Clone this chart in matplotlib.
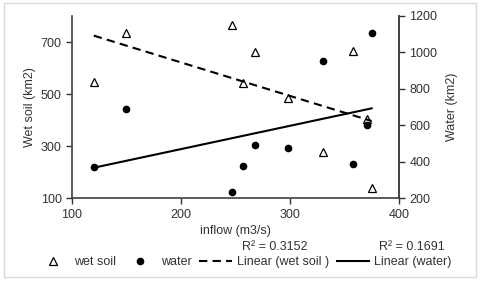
import numpy as np
import matplotlib.pyplot as plt
from matplotlib.lines import Line2D
from matplotlib.patches import Rectangle

plt.rcParams['font.family'] = ['Liberation Sans', 'DejaVu Sans']

# inflow (m3/s)
inflow = [120, 150, 247, 257, 268, 298, 330, 358, 371, 375]
# wet soil area (km2), left axis
wet_soil = [545, 736, 766, 542, 661, 486, 279, 664, 405, 138]
# water area (km2), right axis
water = [371, 688, 237, 378, 490, 475, 951, 387, 602, 1108]

r2_wet = 'R² = 0.3152'
r2_water = 'R² = 0.1691'

fig = plt.figure(figsize=(4.8, 2.83), dpi=100)
fig.add_artist(Rectangle((3.5 / 480, 1 - 277 / 283), 472 / 480, 274 / 283,
                         transform=fig.transFigure, fill=False,
                         edgecolor='#d9d9d9', linewidth=1))

ax = fig.add_axes([0.15, 0.2993, 0.681, 0.6442])
ax2 = ax.twinx()

x = np.array(inflow)
fit_wet = np.polyfit(x, wet_soil, 1)
fit_water = np.polyfit(x, water, 1)
xs = np.array([min(inflow), max(inflow)])

ax.plot(inflow, wet_soil, linestyle='none', marker='^', markersize=5.5,
        markerfacecolor='white', markeredgecolor='black', markeredgewidth=0.9)
ax.plot(xs, np.polyval(fit_wet, xs), color='black', linestyle=(0, (4, 2.5)), linewidth=1.5)
ax2.plot(inflow, water, linestyle='none', marker='o', markersize=4.5,
         color='black')
ax2.plot(xs, np.polyval(fit_water, xs), color='black', linewidth=1.5)

ax.set_xlim(100, 400)
ax.set_ylim(100, 800)
ax.set_xticks([100, 200, 300, 400])
ax.set_yticks([100, 300, 500, 700])
ax2.set_ylim(200, 1200)
ax2.set_yticks([200, 400, 600, 800, 1000, 1200])

for a in (ax, ax2):
    a.spines['top'].set_visible(False)
    for s in a.spines.values():
        s.set_color('#404040')
        s.set_linewidth(1.2)
    a.tick_params(labelsize=9, colors='#333333', length=4, width=1, direction='out')
ax2.spines['left'].set_visible(False)
ax2.spines['bottom'].set_visible(False)

ax.set_xlabel('inflow (m3/s)', fontsize=9, color='#333333', labelpad=3)
ax.set_ylabel('Wet soil (km2)', fontsize=9, color='#333333', labelpad=3)
ax2.set_ylabel('Water (km2)', fontsize=9, color='#333333', labelpad=6)

handles = [
    Line2D([], [], linestyle='none', marker='^', markersize=5.5,
           markerfacecolor='white', markeredgecolor='black', markeredgewidth=0.9),
    Line2D([], [], linestyle='none', marker='o', markersize=4.5, color='black'),
    Line2D([], [], color='black', linestyle=(0, (4, 2.5)), linewidth=1.5),
    Line2D([], [], color='black', linewidth=1.5),
]
labels = ['wet soil', 'water', 'Linear (wet soil )', 'Linear (water)']
fig.legend(handles, labels, loc='center', bbox_to_anchor=(244 / 480, 1 - 262 / 283),
           ncol=4, frameon=False, fontsize=9, handlelength=2.6,
           handletextpad=0.4, columnspacing=0.6, labelcolor='#333333')

fig.text(275 / 480, 1 - 247 / 283, r2_wet, fontsize=9, color='#333333',
         ha='center', va='center')
fig.text(412 / 480, 1 - 247 / 283, r2_water, fontsize=9, color='#333333',
         ha='center', va='center')

fig.savefig('out.png', dpi=100)
